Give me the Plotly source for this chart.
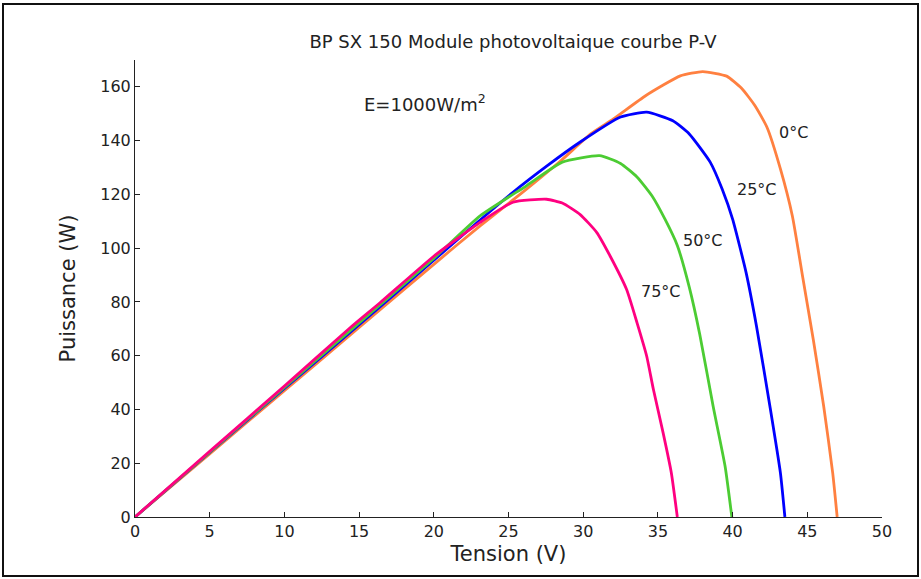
import plotly.graph_objects as go

# ---- data ----
v_0c = [0, 5, 10, 15, 20, 23.1, 26, 28.5, 30.5, 32.0, 34.2, 36.5, 38.0, 39.6, 40.6, 41.5, 42.3, 43.2, 44.0, 44.7, 45.4, 46.1, 46.7, 47.0]
p_0c = [0, 23.5, 47, 70.5, 94, 108.3, 121, 132.5, 142.5, 148, 156.8, 164.1, 165.7, 164.0, 159.5, 153.0, 145.0, 129.5, 112.0, 89.0, 66, 41.1, 16.4, 0]

v_25c = [0, 5, 10, 15, 20, 23.1, 25.3, 27.6, 29.8, 32.5, 34.25, 36.0, 37.1, 38.5, 39.3, 40.0, 40.9, 41.6, 42.5, 43.2, 43.5]
p_25c = [0, 24, 47.8, 71.5, 95.5, 110.5, 120.8, 130.7, 139.5, 148.8, 150.6, 147.4, 142.5, 132, 122, 110.8, 91, 71, 41.1, 16.4, 0]

v_50c = [0, 5, 10, 15, 20, 23.1, 26.2, 28.6, 31.1, 32.5, 33.6, 34.6, 35.5, 36.3, 37.1, 37.8, 38.7, 39.5, 39.95]
p_50c = [0, 24.1, 48.2, 72.2, 96.2, 112, 123.2, 132, 134.4, 131.5, 126.5, 119.5, 110.5, 101, 85.5, 68, 41.1, 18.8, 0]

v_75c = [0, 5, 10, 14.4, 16.4, 20, 23.1, 25.3, 27.55, 28.6, 29.8, 30.9, 31.8, 32.9, 33.6, 34.25, 34.7, 35.35, 35.9, 36.3]
p_75c = [0, 24.4, 48.7, 70.4, 79.7, 97, 109.6, 117.1, 118.2, 116.8, 112.5, 105.9, 97.1, 84.7, 72.3, 59.8, 47.4, 31.3, 16.4, 0]

x_ticks = [0, 5, 10, 15, 20, 25, 30, 35, 40, 45, 50]
y_ticks = [0, 20, 40, 60, 80, 100, 120, 140, 160]

labels = ["0°C", "25°C", "50°C", "75°C"]
label_x = [44.1, 41.6, 38.0, 35.2]
label_y = [143, 122, 103, 84]

series = [
    (v_0c, p_0c, "#ff8040"),
    (v_25c, p_25c, "#0000ff"),
    (v_50c, p_50c, "#4ccc33"),
    (v_75c, p_75c, "#ff0080"),
]

FONT = "DejaVu Sans, Liberation Sans, sans-serif"
TXT = "#222222"

fig = go.Figure()
for v, p, c in series:
    fig.add_trace(go.Scatter(x=v, y=p, mode="lines",
                             line=dict(color=c, width=2.8, shape="spline", smoothing=0.5),
                             showlegend=False, hoverinfo="skip"))

for t, lx, ly in zip(labels, label_x, label_y):
    fig.add_annotation(x=lx, y=ly, text=t, showarrow=False, xanchor="center", yanchor="middle",
                       font=dict(family=FONT, size=16, color=TXT))

fig.add_annotation(x=19.4, y=154, text="E=1000W/m<sup>2</sup>", showarrow=False, xanchor="center",
                   yanchor="middle", font=dict(family=FONT, size=18, color=TXT))

L, R, T, B = 135, 39, 60, 62
W, H = 921, 579
pw, ph = W - L - R, H - T - B


def px_x(x):
    return (x - L) / pw


def px_y(y):
    return (H - B - y) / ph


fig.add_shape(type="rect", xref="paper", yref="paper",
              x0=px_x(3), x1=px_x(918), y0=px_y(576), y1=px_y(4),
              line=dict(color="#111111", width=2), fillcolor="rgba(0,0,0,0)", layer="below")

fig.update_layout(
    width=W, height=H,
    margin=dict(l=L, r=R, t=T, b=B),
    paper_bgcolor="white", plot_bgcolor="white",
    title=dict(text="BP SX 150 Module photovoltaique courbe P-V", x=513 / W, xanchor="center",
               y=1 - 42 / H, yanchor="middle", font=dict(family=FONT, size=18, color=TXT)),
    font=dict(family=FONT, color=TXT),
)
fig.update_xaxes(range=[0, 50], tickvals=x_ticks, ticks="inside", ticklen=5, tickcolor=TXT,
                 showline=True, linecolor=TXT, linewidth=1, showgrid=False, zeroline=False,
                 mirror=False, tickfont=dict(family=FONT, size=16, color=TXT),
                 title=dict(text="Tension (V)", font=dict(family=FONT, size=21, color=TXT), standoff=6))
fig.update_yaxes(range=[0, 170], tickvals=y_ticks, ticks="inside", ticklen=5, tickcolor=TXT,
                 showline=True, linecolor=TXT, linewidth=1, showgrid=False, zeroline=False,
                 mirror=False, tickfont=dict(family=FONT, size=16, color=TXT),
                 title=dict(text="Puissance (W)", font=dict(family=FONT, size=21, color=TXT), standoff=18))

fig.write_html("out.html", config={"displayModeBar": False},
               post_script="document.body.style.margin='0';document.body.style.padding='0';document.body.style.overflow='hidden';")
